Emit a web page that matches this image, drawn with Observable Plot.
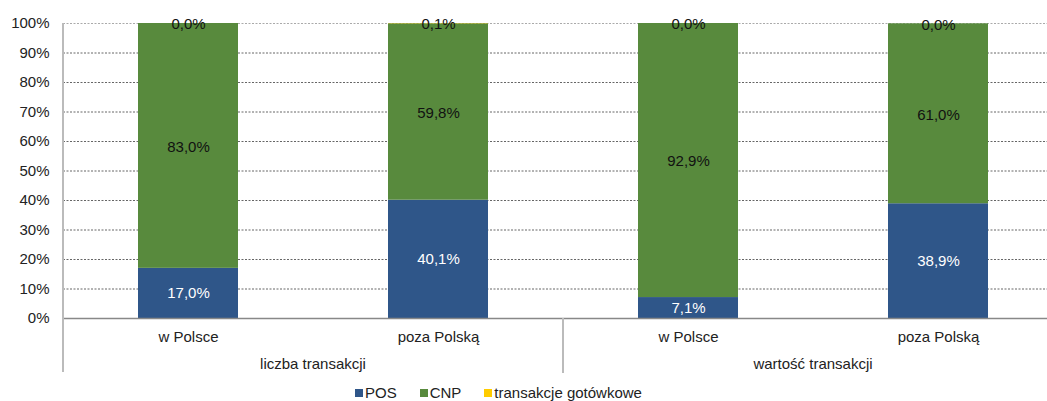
<!DOCTYPE html>
<html>
<head>
<meta charset="utf-8">
<script src="https://cdn.jsdelivr.net/npm/d3@7"></script>
<script src="https://cdn.jsdelivr.net/npm/@observablehq/plot@0.6"></script>
<style>
  html, body { margin: 0; padding: 0; background: #fff; overflow: hidden; }
  #wrap { position: relative; width: 1047px; height: 401px; font-family: "Liberation Sans", Arial, sans-serif; }
  #legend { position: absolute; top: 385px; left: 355px; display: flex; font-size: 15px; line-height: 15px; color: #222; white-space: nowrap; }
  #legend .item { display: flex; align-items: baseline; margin-right: 23px; }
  #legend .sw { display: inline-block; width: 8px; height: 8px; margin-right: 2px; position: relative; top: -1px; }
</style>
</head>
<body>
<div id="wrap"></div>
<script>
// ---- data ----
const groups = ["liczba transakcji", "liczba transakcji", "wartość transakcji", "wartość transakcji"];
const places = ["w Polsce", "poza Polską", "w Polsce", "poza Polską"];
const series = ["POS", "CNP", "transakcje gotówkowe"];
const posValues = [17.0, 40.1, 7.1, 38.9];
const cnpValues = [83.0, 59.8, 92.9, 61.0];
const cashValues = [0.0, 0.1, 0.0, 0.0];
const yTicks = [0, 10, 20, 30, 40, 50, 60, 70, 80, 90, 100];
const colors = ["#2F5689", "#588A3D", "#FFCC00"];

// ---- table built from the arrays ----
const keys = places.map((p, i) => groups[i] + "|" + p);
const seriesValues = [posValues, cnpValues, cashValues];
const table = [];
keys.forEach((k, i) => {
  let acc = 0;
  series.forEach((s, j) => {
    const v = seriesValues[j][i];
    table.push({key: k, series: s, value: v, y1: acc, y2: acc + v});
    acc += v;
  });
});
const fmt = v => v.toFixed(1).replace(".", ",") + "%";

const chart = Plot.plot({
  width: 1047,
  height: 380,
  marginLeft: 63,
  marginRight: 0,
  marginTop: 23,
  marginBottom: 62,
  style: {fontFamily: "'Liberation Sans', Arial, sans-serif", fontSize: "15px", color: "#222", background: "white", overflow: "visible"},
  x: {domain: keys, range: [63, 1063], paddingInner: 0.6, paddingOuter: 0.3, tickSize: 0, tickPadding: 13, tickFormat: k => k.split("|")[1], label: null},
  y: {domain: [0, 100], ticks: yTicks, tickFormat: d => d + "%", tickSize: 0, tickPadding: 14, label: null},
  color: {domain: series, range: colors},
  marks: [
    Plot.ruleY(yTicks.filter(d => d > 0 && d < 100), {stroke: "#666", strokeDasharray: "2,1.5", strokeWidth: 1}),
    Plot.ruleY([100], {stroke: "#aaa", strokeDasharray: "2,1.5", strokeWidth: 1}),
    Plot.barY(table, {x: "key", y1: "y1", y2: "y2", fill: "series"}),
    Plot.ruleY([0], {stroke: "#888", strokeWidth: 1.5}),
    Plot.text(table.filter(d => d.series === "POS"), {x: "key", y: d => (d.y1 + d.y2) / 2, text: d => fmt(d.value), fill: "white", fontSize: 15}),
    Plot.text(table.filter(d => d.series !== "POS"), {x: "key", y: d => (d.y1 + d.y2) / 2, text: d => fmt(d.value), fill: "#111", fontSize: 15, dy: 1})
  ]
});

document.getElementById("wrap").appendChild(chart);

// ---- group axis (derived from the plot's own scales) ----
const xs = chart.scale("x");
const ys = chart.scale("y");
const bw = xs.bandwidth != null ? xs.bandwidth : 100;
const centers = keys.map(k => xs.apply(k) + bw / 2);
const step = centers[1] - centers[0];
const y0 = ys.apply(0);
const yTop = ys.apply(100);
const svg = d3.select(chart.tagName.toLowerCase() === "svg" ? chart : chart.querySelector("svg"));
const extra = svg.append("g");
// left axis line
extra.append("line")
  .attr("x1", centers[0] - step / 2).attr("x2", centers[0] - step / 2)
  .attr("y1", yTop).attr("y2", y0 + 54)
  .attr("stroke", "#bbb").attr("stroke-width", 2);
const uniqueGroups = Array.from(new Set(groups));
uniqueGroups.forEach((g, gi) => {
  const idx = groups.map((gg, i) => gg === g ? i : -1).filter(i => i >= 0);
  const cx = d3.mean(idx, i => centers[i]);
  extra.append("text")
    .attr("x", cx).attr("y", y0 + 51)
    .attr("text-anchor", "middle")
    .attr("font-size", 15)
    .attr("fill", "#222")
    .text(g);
  if (gi > 0) {
    const sx = (centers[idx[0]] + centers[idx[0] - 1]) / 2;
    extra.append("line")
      .attr("x1", sx).attr("x2", sx)
      .attr("y1", y0).attr("y2", y0 + 55)
      .attr("stroke", "#bbb").attr("stroke-width", 2);
  }
});

// ---- legend ----
const legend = d3.select("#wrap").append("div").attr("id", "legend");
series.forEach((s, i) => {
  const it = legend.append("div").attr("class", "item");
  it.append("span").attr("class", "sw").style("background", colors[i]);
  it.append("span").text(s);
});
</script>
</body>
</html>
